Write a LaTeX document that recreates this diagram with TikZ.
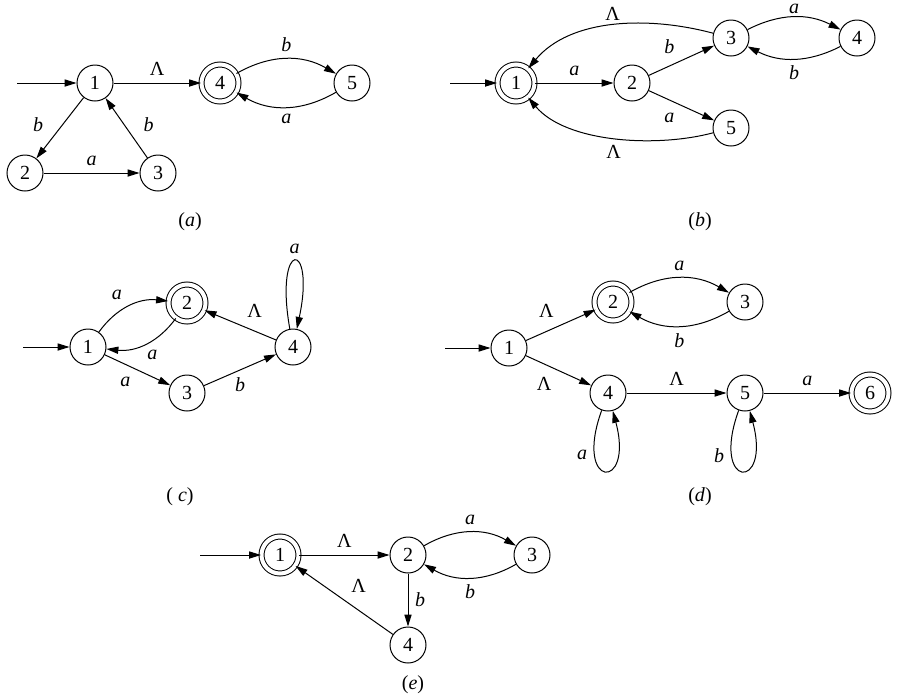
\documentclass[tikz,border=0pt]{standalone}
\usepackage{fontspec}
\setmainfont{Liberation Serif}
\usetikzlibrary{arrows.meta}
\begin{document}
\begin{tikzpicture}[x=0.5pt, y=-0.5pt, line width=0.5pt,
    >={Triangle[length=6pt,width=3.6pt]},
    state/.style={circle, draw, minimum size=18pt, inner sep=0pt},
    accept/.style={state, double, double distance=2pt, minimum size=18.5pt}]
    \useasboundingbox (0,0) rectangle (901,698);

    % (a)
    \node[state] (a1) at (95,83) {1};
    \node[accept] (a4) at (220,83) {4};
    \node[state] (a5) at (352,83) {5};
    \node[state] (a2) at (25,173) {2};
    \node[state] (a3) at (158,173) {3};
    \coordinate (a0) at (17,83);
    \draw[->] (a0) -- (a1);
    \draw[->] (a1) -- node[above] {Λ} (a4);
    \draw[->] (a4) to[bend left=30] node[above] {\textit{b}} (a5);
    \draw[->] (a5) to[bend left=30] node[below] {\textit{a}} (a4);
    \draw[->] (a1) -- node[pos=.45, left=6pt] {\textit{b}} (a2);
    \draw[->] (a3) -- node[pos=.55, right=6pt] {\textit{b}} (a1);
    \draw[->] (a2) -- node[above] {\textit{a}} (a3);
    \node (capa) at (190,222) {(\textit{a})};

    % (b)
    \node[accept] (b1) at (516,83) {1};
    \node[state] (b2) at (632,83) {2};
    \node[state] (b3) at (731,38) {3};
    \node[state] (b4) at (857,38) {4};
    \node[state] (b5) at (731,128) {5};
    \coordinate (b0) at (450,83);
    \draw[->] (b0) -- (b1);
    \draw[->] (b1) -- node[above] {\textit{a}} (b2);
    \draw[->] (b2) -- node[above left] {\textit{b}} (b3);
    \draw[->] (b2) -- node[below left] {\textit{a}} (b5);
    \draw[->] (b3) to[bend left=27] node[above, inner sep=1.5pt] {\textit{a}} (b4);
    \draw[->] (b4) to[bend left=27] node[below] {\textit{b}} (b3);
    \draw[->] (b3) to[out=165, in=50, looseness=.9] node[above, inner sep=2pt] {Λ} (b1);
    \draw[->] (b5) to[out=195, in=-50, looseness=.8] node[below] {Λ} (b1);
    \node (capb) at (700,222) {(\textit{b})};

    % (c)
    \node[state] (c1) at (88,347) {1};
    \node[accept] (c2) at (187,303) {2};
    \node[state] (c3) at (187,393) {3};
    \node[state] (c4) at (293,347) {4};
    \coordinate (c0) at (23,347);
    \draw[->] (c0) -- (c1);
    \draw[->] (c1) to[bend left=30] node[above left] {\textit{a}} (c2);
    \draw[->] (c2) to[bend left=30] node[pos=.55, below right=-1pt] {\textit{a}} (c1);
    \draw[->] (c1) -- node[below left] {\textit{a}} (c3);
    \draw[->] (c3) -- node[below] {\textit{b}} (c4);
    \draw[->] (c4) -- node[above right] {Λ} (c2);
    \draw[->] (c4) to[out=100, in=78, distance=46pt] node[above] {\textit{a}} (c4);
    \node (capc) at (180,497) {( \textit{c})};

    % (d)
    \node[state] (d1) at (509,348) {1};
    \node[accept] (d2) at (613,302) {2};
    \node[state] (d3) at (745,302) {3};
    \node[state] (d4) at (608,393) {4};
    \node[state] (d5) at (745,393) {5};
    \node[accept] (d6) at (870,393) {6};
    \coordinate (d0) at (445,348);
    \draw[->] (d0) -- (d1);
    \draw[->] (d1) -- node[above left] {Λ} (d2);
    \draw[->] (d1) -- node[below left] {Λ} (d4);
    \draw[->] (d2) to[bend left=30] node[above] {\textit{a}} (d3);
    \draw[->] (d3) to[bend left=30] node[below] {\textit{b}} (d2);
    \draw[->] (d4) -- node[above] {Λ} (d5);
    \draw[->] (d5) -- node[above] {\textit{a}} (d6);
    \draw[->] (d4) to[out=250, in=285, distance=42pt] node[pos=.25, left] {\textit{a}} (d4);
    \draw[->] (d5) to[out=250, in=285, distance=42pt] node[pos=.25, left] {\textit{b}} (d5);
    \node (capd) at (700,497) {(\textit{d})};

    % (e)
    \node[accept] (e1) at (280,555) {1};
    \node[state] (e2) at (408,555) {2};
    \node[state] (e3) at (532,555) {3};
    \node[state] (e4) at (408,645) {4};
    \coordinate (e0) at (200,555);
    \draw[->] (e0) -- (e1);
    \draw[->] (e1) -- node[above] {Λ} (e2);
    \draw[->] (e2) to[bend left=30] node[above] {\textit{a}} (e3);
    \draw[->] (e3) to[bend left=30] node[below] {\textit{b}} (e2);
    \draw[->] (e2) -- node[right] {\textit{b}} (e4);
    \draw[->] (e4) -- node[above right] {Λ} (e1);
    \node (cape) at (413,685) {(\textit{e})};
\end{tikzpicture}
\end{document}
